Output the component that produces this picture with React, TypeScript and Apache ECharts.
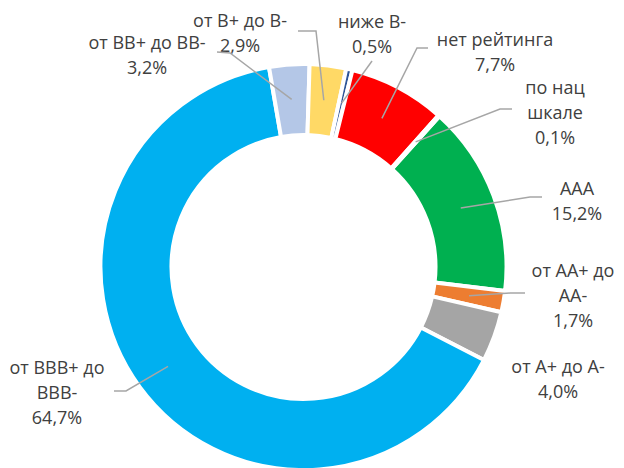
import React, { useEffect, useRef } from 'react';
import * as echarts from 'echarts';

// ---- data ----
const categories = [
  'AAA',
  'от AA+ до AA-',
  'от A+ до A-',
  'от BBB+ до BBB-',
  'от BB+ до BB-',
  'от B+ до B-',
  'ниже B-',
  'нет рейтинга',
  'по нац шкале',
];
const labelTexts = [
  'AAA',
  'от AA+ до\nAA-',
  'от A+ до A-',
  'от BBB+ до\nBBB-',
  'от BB+ до BB-',
  'от B+ до B-',
  'ниже B-',
  'нет рейтинга',
  'по нац\nшкале',
];
const shares = [15.2, 1.7, 4.0, 64.7, 3.2, 2.9, 0.5, 7.7, 0.1];
const colors = ['#00B050', '#ED7D31', '#A5A5A5', '#00B0F0', '#B4C7E7', '#FFD966', '#2F5597', '#FF0000', '#7F6000'];

// ---- layout ----
const CX = 303.5;
const CY = 267;
const R_IN = 132;
const R_OUT = 203;
const R_MID = 168;
const START_CW = 42.04; // degrees clockwise from 12 o'clock where the first slice starts
const labelPos: number[][] = [
  [577, 200], [573, 295], [558, 378], [57, 392], [147, 54], [240, 32], [372, 33], [495, 51], [555, 112],
];
const lineStarts: (number[][] | null)[] = [
  [[542, 197], [530, 197]],
  [[525, 293], [510, 293]],
  null,
  [[114, 391], [126, 391]],
  [[217, 52], [230, 53]],
  [[298, 31], [316, 31]],
  [[372, 61]],
  [[428, 48], [417, 48]],
  [[512, 109], [500, 109]],
];

const total = shares.reduce((a, b) => a + b, 0);
function midPoint(i: number): number[] {
  let cum = 0;
  for (let k = 0; k < i; k++) cum += shares[k];
  const theta = ((START_CW + ((cum + shares[i] / 2) / total) * 360) * Math.PI) / 180;
  return [CX + R_MID * Math.sin(theta), CY - R_MID * Math.cos(theta)];
}
const fmt = (v: number) => v.toFixed(1).replace('.', ',') + '%';

export default function App() {
  const ref = useRef<HTMLDivElement>(null);
  useEffect(() => {
    if (!ref.current) return;
    const chart = echarts.init(ref.current, undefined, { renderer: 'svg' });
    const leaderLines = lineStarts
      .map((ls, i) =>
        ls
          ? {
              type: 'polyline',
              z: 100,
              silent: true,
              shape: { points: [...ls, midPoint(i)] },
              style: { stroke: '#A6A6A6', lineWidth: 1.5, fill: null },
            }
          : null
      )
      .filter((x) => x !== null);
    chart.setOption({
      animation: false,
      backgroundColor: '#ffffff',
      graphic: { elements: leaderLines },
      series: [
        {
          type: 'pie',
          center: [CX, CY],
          radius: [R_IN, R_OUT],
          startAngle: 90 - START_CW,
          clockwise: true,
          avoidLabelOverlap: false,
          itemStyle: { borderColor: '#ffffff', borderWidth: 4 },
          label: {
            show: true,
            position: 'outside',
            fontFamily: 'Open Sans',
            fontSize: 18,
            lineHeight: 25,
            color: '#404040',
            align: 'center',
            formatter: (p: any) => labelTexts[p.dataIndex] + '\n' + fmt(p.value),
          },
          labelLine: { show: false },
          labelLayout: (params: any) => {
            const pos = labelPos[params.dataIndex];
            return { x: pos[0], y: pos[1], align: 'center', verticalAlign: 'middle' };
          },
          data: categories.map((name, i) => ({
            name,
            value: shares[i],
            itemStyle: { color: colors[i] },
          })),
        },
      ],
    });
    return () => chart.dispose();
  }, []);
  return <div ref={ref} style={{ position: 'fixed', left: 0, top: 0, width: 624, height: 468 }} />;
}
